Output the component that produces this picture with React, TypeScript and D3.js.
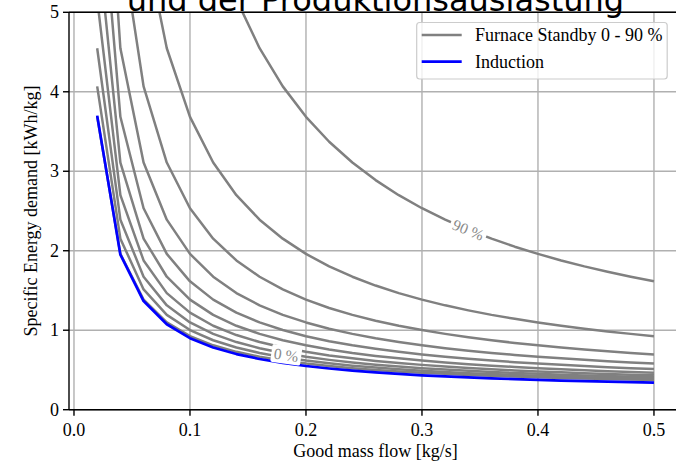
import React from "react";
import * as d3 from "d3";

// ---- data ----
const massFlow = [0.02, 0.04, 0.06, 0.08, 0.1, 0.12, 0.14, 0.16, 0.18, 0.2, 0.22, 0.24, 0.26, 0.28, 0.3, 0.32, 0.34, 0.36, 0.38, 0.4, 0.42, 0.44, 0.46, 0.48, 0.5];

const induction = [3.7, 1.95, 1.367, 1.075, 0.9, 0.783, 0.7, 0.638, 0.589, 0.55, 0.518, 0.492, 0.469, 0.45, 0.433, 0.419, 0.406, 0.394, 0.384, 0.375, 0.367, 0.359, 0.352, 0.346, 0.34];

const standby0 = [3.685, 1.96, 1.385, 1.098, 0.925, 0.81, 0.728, 0.666, 0.618, 0.58, 0.549, 0.523, 0.5, 0.481, 0.465, 0.451, 0.438, 0.427, 0.417, 0.408, 0.399, 0.392, 0.385, 0.379, 0.373];
const standby10 = [4.068, 2.152, 1.513, 1.193, 1.002, 0.874, 0.783, 0.714, 0.661, 0.618, 0.583, 0.554, 0.53, 0.509, 0.491, 0.475, 0.46, 0.448, 0.437, 0.427, 0.418, 0.409, 0.402, 0.395, 0.388];
const standby20 = [4.548, 2.391, 1.673, 1.313, 1.098, 0.954, 0.851, 0.774, 0.714, 0.666, 0.627, 0.594, 0.567, 0.543, 0.523, 0.505, 0.489, 0.475, 0.462, 0.451, 0.44, 0.431, 0.423, 0.415, 0.408];
const standby30 = [5.164, 2.699, 1.878, 1.467, 1.221, 1.056, 0.939, 0.851, 0.783, 0.728, 0.683, 0.646, 0.614, 0.587, 0.564, 0.543, 0.525, 0.509, 0.494, 0.481, 0.47, 0.459, 0.449, 0.44, 0.432];
const standby40 = [5.985, 3.11, 2.152, 1.673, 1.385, 1.193, 1.056, 0.954, 0.874, 0.81, 0.758, 0.714, 0.677, 0.646, 0.618, 0.594, 0.573, 0.554, 0.538, 0.523, 0.509, 0.496, 0.485, 0.475, 0.465];
const standby50 = [7.135, 3.685, 2.535, 1.96, 1.615, 1.385, 1.221, 1.098, 1.002, 0.925, 0.862, 0.81, 0.766, 0.728, 0.695, 0.666, 0.641, 0.618, 0.598, 0.58, 0.564, 0.549, 0.535, 0.523, 0.511];
const standby60 = [8.86, 4.548, 3.11, 2.391, 1.96, 1.673, 1.467, 1.313, 1.193, 1.098, 1.019, 0.954, 0.898, 0.851, 0.81, 0.774, 0.742, 0.714, 0.689, 0.666, 0.646, 0.627, 0.61, 0.594, 0.58];
const standby70 = [11.735, 5.985, 4.068, 3.11, 2.535, 2.152, 1.878, 1.673, 1.513, 1.385, 1.28, 1.193, 1.12, 1.056, 1.002, 0.954, 0.911, 0.874, 0.84, 0.81, 0.783, 0.758, 0.735, 0.714, 0.695];
const standby80 = [17.485, 8.86, 5.985, 4.548, 3.685, 3.11, 2.699, 2.391, 2.152, 1.96, 1.803, 1.673, 1.562, 1.467, 1.385, 1.313, 1.25, 1.193, 1.143, 1.098, 1.056, 1.019, 0.985, 0.954, 0.925];
const standby90 = [34.735, 17.485, 11.735, 8.86, 7.135, 5.985, 5.164, 4.548, 4.068, 3.685, 3.371, 3.11, 2.889, 2.699, 2.535, 2.391, 2.264, 2.152, 2.051, 1.96, 1.878, 1.803, 1.735, 1.673, 1.615];

const standbyCurves = [standby0, standby10, standby20, standby30, standby40, standby50, standby60, standby70, standby80, standby90];

const xTicks = [0, 0.1, 0.2, 0.3, 0.4, 0.5];
const yTicks = [0, 1, 2, 3, 4, 5];
const legendLabels = ["Furnace Standby 0 - 90 %", "Induction"];

const titleText = "und der Produktionsauslastung";
const xLabel = "Good mass flow [kg/s]";
const yLabel = "Specific Energy demand [kWh/kg]";

// ---- layout ----
const W = 676;
const H = 465;
const left = 69;
const right = 681.8;
const top = 12.3;
const bottom = 409.7;

const GRAY = "#808080";
const BLUE = "#0000ff";
const GRID = "#b0b0b0";
const SERIF = "'Liberation Serif', 'Times New Roman', serif";

export default function App() {
  const x = d3.scaleLinear().domain([-0.0043, 0.524]).range([left, right]);
  const y = d3.scaleLinear().domain([0, 5]).range([bottom, top]);

  const line = d3
    .line<number>()
    .x((_, i) => x(massFlow[i]))
    .y((d) => y(d));

  // inline labels
  const lab90m = 0.34;
  const lab90v = standby90[massFlow.indexOf(lab90m)];
  const lab0x = x(0.183);
  const lab0y = y(0.69);

  return (
    <svg
      width={W}
      height={H}
      viewBox={`0 0 ${W} ${H}`}
      style={{ position: "absolute", left: 0, top: 0, background: "#fff" }}
    >
      <defs>
        <clipPath id="plotClip">
          <rect x={left} y={top} width={right - left} height={bottom - top} />
        </clipPath>
      </defs>
      <rect x={0} y={0} width={W} height={H} fill="#fff" />

      {/* grid */}
      <g stroke={GRID} strokeWidth={1.4}>
        {xTicks.map((t) => (
          <line key={"gx" + t} x1={x(t)} x2={x(t)} y1={top} y2={bottom} />
        ))}
        {yTicks.map((t) => (
          <line key={"gy" + t} x1={left} x2={right} y1={y(t)} y2={y(t)} />
        ))}
      </g>

      {/* curves */}
      <g clipPath="url(#plotClip)" fill="none" strokeLinejoin="round" strokeLinecap="butt">
        {standbyCurves.map((c, i) => (
          <path key={"s" + i} d={line(c) || ""} stroke={GRAY} strokeWidth={2.5} />
        ))}
        <path d={line(induction) || ""} stroke={BLUE} strokeWidth={2.7} />
      </g>

      {/* inline labels */}
      <g transform={`translate(${x(lab90m)},${y(lab90v)}) rotate(22.5)`}>
        <rect x={-19} y={-9} width={38} height={18} fill="#fff" />
        <text
          x={0}
          y={5.5}
          textAnchor="middle"
          fontFamily={SERIF}
          fontSize={15.5}
          fill="#8a8a8a"
        >
          90 %
        </text>
      </g>
      <g transform={`translate(${lab0x},${lab0y}) rotate(8)`}>
        <rect x={-15} y={-9} width={30} height={18} rx={2} fill="#fff" />
        <text
          x={0}
          y={5.5}
          textAnchor="middle"
          fontFamily={SERIF}
          fontSize={15.5}
          fill="#8a8a8a"
        >
          0 %
        </text>
      </g>

      {/* spines */}
      <g stroke="#000" strokeWidth={1.4} fill="none">
        <line x1={left} x2={left} y1={top} y2={bottom} />
        <line x1={left} x2={right} y1={bottom} y2={bottom} />
        <line x1={left} x2={right} y1={top} y2={top} />
      </g>

      {/* ticks */}
      <g stroke="#000" strokeWidth={1.4}>
        {xTicks.map((t) => (
          <line key={"tx" + t} x1={x(t)} x2={x(t)} y1={bottom} y2={bottom + 6} />
        ))}
        {yTicks.map((t) => (
          <line key={"ty" + t} x1={left - 6} x2={left} y1={y(t)} y2={y(t)} />
        ))}
      </g>
      <g fontFamily={SERIF} fontSize={18} fill="#000">
        {xTicks.map((t) => (
          <text key={"lx" + t} x={x(t)} y={bottom + 26.5} textAnchor="middle">
            {d3.format(".1f")(t)}
          </text>
        ))}
        {yTicks.map((t) => (
          <text key={"ly" + t} x={left - 10} y={y(t) + 6} textAnchor="end">
            {t}
          </text>
        ))}
        <text x={(left + right) / 2} y={457} textAnchor="middle">
          {xLabel}
        </text>
        <text
          transform={`translate(37,${(top + bottom) / 2}) rotate(-90)`}
          textAnchor="middle"
        >
          {yLabel}
        </text>
      </g>

      {/* legend */}
      <g>
        <rect
          x={416.7}
          y={22.5}
          width={250.5}
          height={56.5}
          rx={3}
          fill="#fff"
          fillOpacity={0.8}
          stroke="#cccccc"
          strokeWidth={1.2}
        />
        <line x1={421.7} x2={461.7} y1={35} y2={35} stroke={GRAY} strokeWidth={2.5} />
        <line x1={421.7} x2={461.7} y1={61.7} y2={61.7} stroke={BLUE} strokeWidth={2.7} />
        <text x={475} y={41} fontFamily={SERIF} fontSize={18} fill="#000">
          {legendLabels[0]}
        </text>
        <text x={475} y={67.7} fontFamily={SERIF} fontSize={18} fill="#000">
          {legendLabels[1]}
        </text>
      </g>

      {/* title (cut at the top of the image) */}
      <text
        x={(left + right) / 2}
        y={11}
        textAnchor="middle"
        fontFamily="'DejaVu Sans', sans-serif"
        fontSize={32}
        fill="#000"
      >
        {titleText}
      </text>
    </svg>
  );
}
